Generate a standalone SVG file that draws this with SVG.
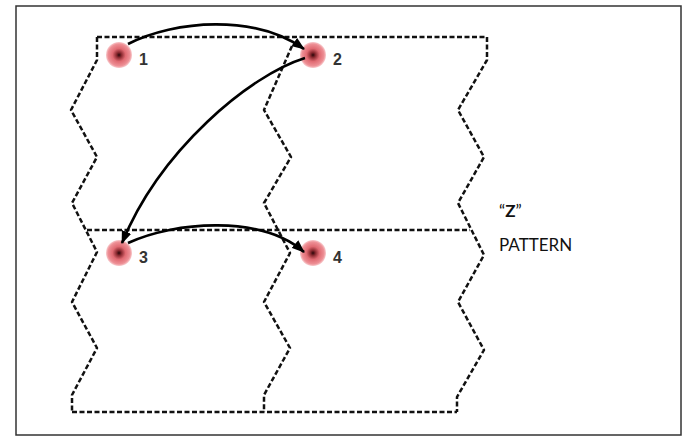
<svg xmlns="http://www.w3.org/2000/svg" width="692" height="440" viewBox="0 0 692 440">
<defs>
<radialGradient id="dot" cx="0.5" cy="0.5" r="0.5">
<stop offset="0" stop-color="#2a0508"/>
<stop offset="0.2" stop-color="#8a2a30"/>
<stop offset="0.5" stop-color="#e06a72"/>
<stop offset="0.85" stop-color="#ee9096"/>
<stop offset="1" stop-color="#f4b0b4" stop-opacity="0.7"/>
</radialGradient>
<marker id="ah" viewBox="0 0 13 10" refX="12" refY="5" markerWidth="13" markerHeight="10" markerUnits="userSpaceOnUse" orient="auto">
<path d="M0,0 L13,5 L0,10 z" fill="#000"/>
</marker>
<style>
.frame{fill:#fff;stroke:#333;stroke-width:1.5}
.dash{fill:none;stroke:#111;stroke-width:2.5;stroke-dasharray:5 2.5;stroke-linejoin:round}
.arc{fill:none;stroke:#000;stroke-width:2.6;marker-end:url(#ah)}
.num{font-family:"Liberation Sans",Arial,sans-serif;font-weight:bold;font-size:16px;fill:#333}
.lbl{font-family:Lato,"Open Sans",sans-serif;font-size:17px;fill:#111}
</style>
</defs>
<rect class="frame" x="16" y="6" width="665" height="429"/>
<g id="grid">
<path class="dash" d="M97,37 L487,37"/>
<path class="dash" d="M87,230 L470,230"/>
<path class="dash" d="M72,412 L457,412"/>
<path class="dash" d="M97,37 L97,60 L71,110 L97,157 L72,203 L97,252 L72,302 L97,348 L72,395 L72,412"/>
<path class="dash" d="M292,46 L264,110 L291,157 L264,203 L290,253 L264,302 L290,348 L264,395 L264,412"/>
<path class="dash" d="M487,37 L487,60 L458,110 L484,157 L458,203 L484,255 L458,302 L484,350 L457,397 L457,412"/>
</g>
<g id="node1"><circle cx="119" cy="55" r="13" fill="url(#dot)"/><text class="num" x="139" y="65">1</text></g>
<g id="node2"><circle cx="313" cy="55" r="13" fill="url(#dot)"/><text class="num" x="333" y="65">2</text></g>
<g id="node3"><circle cx="119" cy="253" r="13" fill="url(#dot)"/><text class="num" x="139" y="263">3</text></g>
<g id="node4"><circle cx="313" cy="253" r="13" fill="url(#dot)"/><text class="num" x="333" y="263">4</text></g>
<g id="connectors">
<path class="arc" d="M128,44 C175,20 255,14 304,49"/>
<path class="arc" d="M305,58 C250,75 160,150 122,243"/>
<path class="arc" d="M128,243 C175,221 262,215 304,252"/>
</g>
<g id="caption">
<text class="lbl" x="499" y="217">“<tspan font-weight="bold">Z</tspan>”</text>
<text class="lbl" x="499" y="251">PATTERN</text>
</g>
</svg>
